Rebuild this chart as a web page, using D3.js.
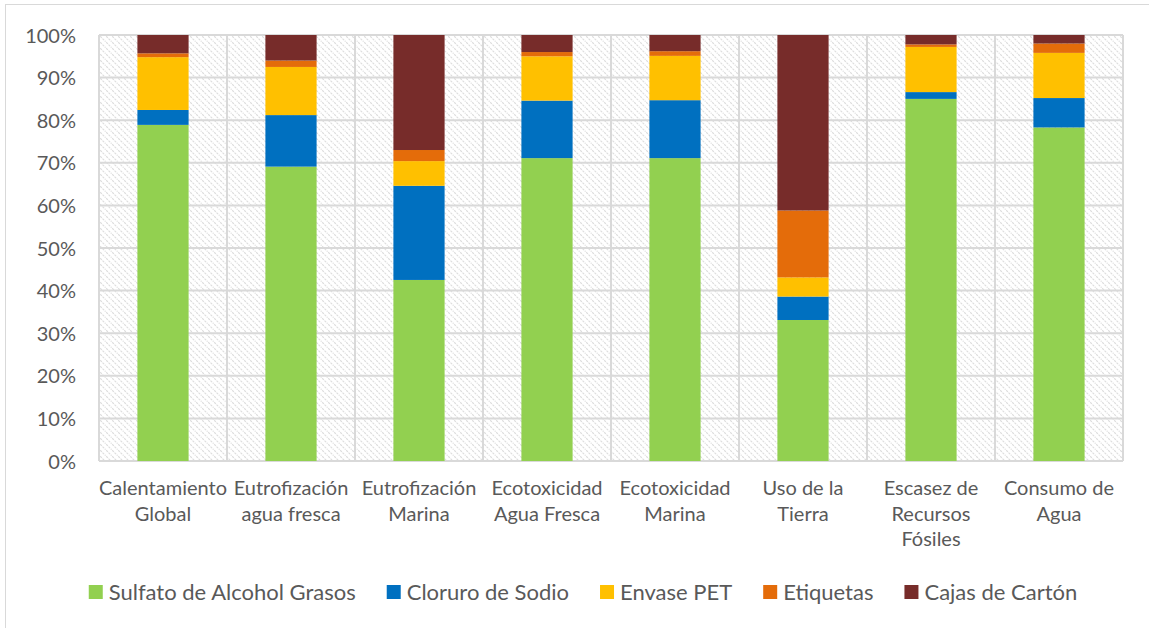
<!DOCTYPE html>
<html>
<head>
<meta charset="utf-8">
<script src="https://cdn.jsdelivr.net/npm/d3@7"></script>
<style>
  html, body { margin: 0; padding: 0; background: #fff; }
  text { font-family: Lato, "Open Sans", sans-serif; fill: #595959; }
</style>
</head>
<body>
<div id="chart"></div>
<script>
// Daten (Anteile in %)
const categories = [
  "Calentamiento\nGlobal",
  "Eutrofización\nagua fresca",
  "Eutrofización\nMarina",
  "Ecotoxicidad\nAgua Fresca",
  "Ecotoxicidad\nMarina",
  "Uso de la\nTierra",
  "Escasez de\nRecursos\nFósiles",
  "Consumo de\nAgua"
];
const seriesNames = ["Sulfato de Alcohol Grasos", "Cloruro de Sodio", "Envase PET", "Etiquetas", "Cajas de Cartón"];
const sulfato   = [78.9, 69.1, 42.5, 71.1, 71.1, 33.1, 85.0, 78.3];
const cloruro   = [3.5, 12.1, 22.1, 13.5, 13.6, 5.5, 1.6, 6.9];
const envase    = [12.4, 11.3, 5.8, 10.4, 10.4, 4.5, 10.6, 10.6];
const etiquetas = [0.9, 1.5, 2.6, 1.0, 1.1, 15.7, 0.6, 2.2];
const cajas     = [4.3, 6.0, 27.0, 4.0, 3.8, 41.2, 2.2, 2.0];
const yTicks = [0, 10, 20, 30, 40, 50, 60, 70, 80, 90, 100];

const colors = ["#92D050", "#0070C0", "#FFC000", "#E46C0A", "#772C2A"];
const valuesBySeries = [sulfato, cloruro, envase, etiquetas, cajas];

// Layout
const W = 1149, H = 628;
const m = { top: 35, right: 26, bottom: 167, left: 99 };
const innerW = W - m.left - m.right, innerH = H - m.top - m.bottom;
const FS = 20, FS_LEG = 22;

const svg = d3.select("#chart").append("svg").attr("width", W).attr("height", H);

// Schraffur-Muster für den Plotbereich (gestrichelte Diagonalen)
const defs = svg.append("defs");
const pat = defs.append("pattern")
  .attr("id", "hatch").attr("patternUnits", "userSpaceOnUse")
  .attr("width", 6).attr("height", 6);
pat.append("rect").attr("width", 6).attr("height", 6).attr("fill", "#fff");
pat.append("path").attr("d", "M-1,-1 L7,7 M-1,5 L1,7 M5,-1 L7,1")
  .attr("stroke", "#dcdcdc").attr("stroke-width", 1.1)
  .attr("stroke-dasharray", "2.2,1");

// Rahmen des Diagramms
svg.append("rect").attr("x", 5.5).attr("y", 4.5).attr("width", 1160).attr("height", 640)
  .attr("fill", "none").attr("stroke", "#d9d9d9").attr("stroke-width", 1);

const g = svg.append("g").attr("transform", `translate(${m.left},${m.top})`);

const x = d3.scaleBand().domain(categories).range([0, innerW]).paddingInner(0.6).paddingOuter(0.3);
const y = d3.scaleLinear().domain([0, 100]).range([innerH, 0]);

g.append("rect").attr("width", innerW).attr("height", innerH).attr("fill", "url(#hatch)");

// Gitterlinien
const step = x.step();
g.selectAll(".hgrid").data(yTicks).join("line")
  .attr("x1", 0).attr("x2", innerW)
  .attr("y1", d => y(d)).attr("y2", d => y(d))
  .attr("stroke", "#d9d9d9").attr("stroke-width", 2);
g.selectAll(".vgrid").data(d3.range(categories.length + 1)).join("line")
  .attr("x1", i => i * step).attr("x2", i => i * step)
  .attr("y1", 0).attr("y2", innerH)
  .attr("stroke", "#d9d9d9").attr("stroke-width", 2);

// Gestapelte Balken
const rows = categories.map((c, i) => {
  const r = { cat: c };
  seriesNames.forEach((s, k) => r[s] = valuesBySeries[k][i]);
  return r;
});
const stacked = d3.stack().keys(seriesNames)(rows);

g.selectAll(".layer").data(stacked).join("g")
  .attr("fill", (d, k) => colors[k])
  .selectAll("rect").data(d => d).join("rect")
  .attr("x", d => x(d.data.cat))
  .attr("width", x.bandwidth())
  .attr("y", d => y(d[1]))
  .attr("height", d => y(d[0]) - y(d[1]));

// Y-Achse
const yAxis = g.append("g").call(d3.axisLeft(y).tickValues(yTicks).tickFormat(d => d + "%").tickSize(0).tickPadding(23));
yAxis.select(".domain").remove();
yAxis.selectAll("text").style("font-size", FS + "px").attr("fill", "#595959").attr("dy", "0.35em");

// X-Achse (mehrzeilige Beschriftungen)
const xAxis = g.append("g").attr("transform", `translate(0,${innerH})`)
  .call(d3.axisBottom(x).tickSize(0).tickFormat(""));
xAxis.select(".domain").remove();
xAxis.selectAll(".tick").each(function(d) {
  const t = d3.select(this).append("text")
    .attr("text-anchor", "middle").style("font-size", FS + "px").attr("fill", "#595959");
  d.split("\n").forEach((line, i) => {
    t.append("tspan").attr("x", 0).attr("y", 34 + i * 25.5).text(line);
  });
});

// Legende
const leg = svg.append("g");
const items = leg.selectAll("g").data(seriesNames).join("g");
items.append("rect").attr("width", 14).attr("height", 14).attr("y", -7)
  .attr("fill", (d, k) => colors[k]);
items.append("text").attr("x", 20).attr("y", 8).style("font-size", FS_LEG + "px").text(d => d);
let xpos = 0;
items.each(function() {
  const w = d3.select(this).select("text").node().getComputedTextLength();
  d3.select(this).attr("transform", `translate(${xpos},0)`);
  xpos += 20 + w + 31;
});
const total = xpos - 31;
leg.attr("transform", `translate(${583 - total / 2},592)`);
</script>
</body>
</html>
